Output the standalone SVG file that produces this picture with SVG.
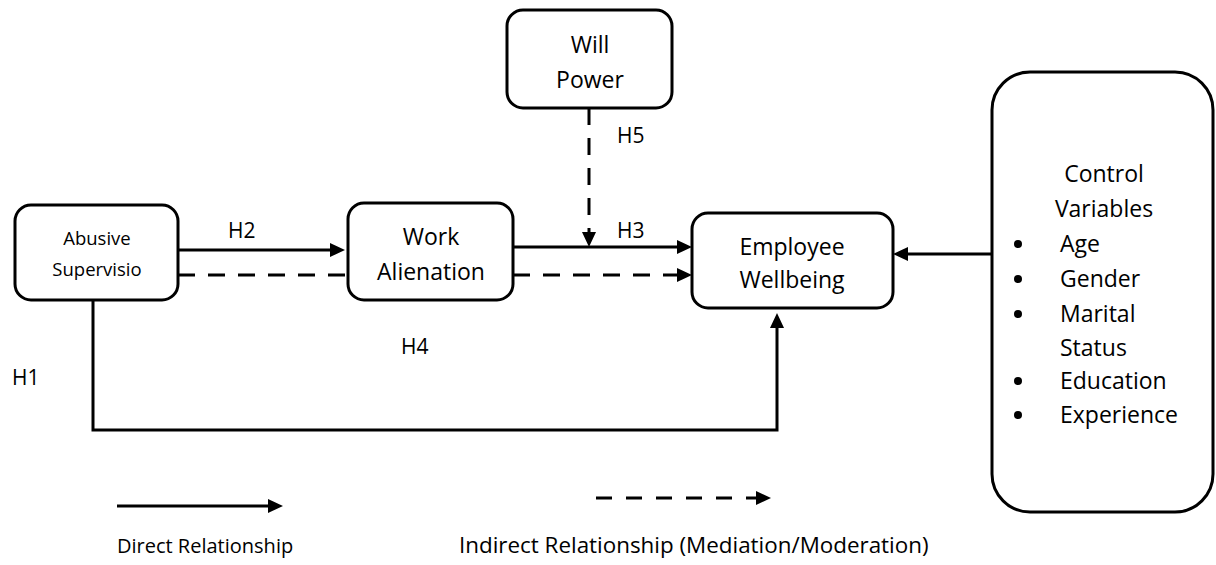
<svg xmlns="http://www.w3.org/2000/svg" width="1216" height="565" viewBox="0 0 1216 565">
<style>
.box{fill:#fff;stroke:#000;stroke-width:3}
.t{font-family:"Open Sans","Liberation Sans",sans-serif;fill:#000}
.c{text-anchor:middle}
.n{font-size:23px}
.h{font-size:21px}
.l{font-size:20px}
.ln{fill:none;stroke:#000;stroke-width:3}
.d{stroke-dasharray:17 13}
</style>
<defs>
<marker id="ah" markerUnits="userSpaceOnUse" markerWidth="16" markerHeight="15" refX="0" refY="7" orient="auto" viewBox="0 0 16 14">
<path d="M0,0 L15,7 L0,14 z" fill="#000"/>
</marker>
</defs>
<g id="connectors">
<path class="ln" d="M178,250 H330" marker-end="url(#ah)"/>
<path class="ln d" d="M178,275 H345"/>
<path class="ln" d="M513,247 H677" marker-end="url(#ah)"/>
<path class="ln d" d="M513,275 H677" marker-end="url(#ah)"/>
<path class="ln d" d="M589,108 V232" marker-end="url(#ah)"/>
<path class="ln" d="M992,254 H908" marker-end="url(#ah)"/>
<path class="ln" d="M93,300 V430 H777 V328" marker-end="url(#ah)"/>
<text class="t h" x="228" y="238">H2</text>
<text class="t h" x="617" y="238">H3</text>
<text class="t h" x="617" y="143">H5</text>
<text class="t h" x="401" y="354">H4</text>
<text class="t h" x="12" y="385">H1</text>
</g>
<g id="abusive">
<rect class="box" x="15" y="205" width="163" height="95" rx="16"/>
<text class="t c" style="font-size:18.5px" x="97" y="245">Abusive</text>
<text class="t c" style="font-size:18.5px" x="97" y="276">Supervisio</text>
</g>
<g id="work">
<rect class="box" x="348" y="203" width="165" height="97" rx="16"/>
<text class="t c n" x="431" y="245">Work</text>
<text class="t c n" x="431" y="280">Alienation</text>
</g>
<g id="will">
<rect class="box" x="507" y="10" width="165" height="98" rx="16"/>
<text class="t c n" x="590" y="53">Will</text>
<text class="t c n" x="590" y="88">Power</text>
</g>
<g id="employee">
<rect class="box" x="692" y="213" width="201" height="95" rx="16"/>
<text class="t c n" x="792" y="255">Employee</text>
<text class="t c n" x="792" y="288">Wellbeing</text>
</g>
<g id="control">
<rect class="box" x="992" y="72" width="221" height="440" rx="38"/>
<text class="t c n" x="1104" y="182">Control</text>
<text class="t c n" x="1104" y="217">Variables</text>
<g fill="#000">
<circle cx="1018" cy="244" r="4"/>
<circle cx="1018" cy="279" r="4"/>
<circle cx="1018" cy="314" r="4"/>
<circle cx="1018" cy="381" r="4"/>
<circle cx="1018" cy="415" r="4"/>
</g>
<text class="t n" x="1060" y="252">Age</text>
<text class="t n" x="1060" y="287">Gender</text>
<text class="t n" x="1060" y="322">Marital</text>
<text class="t n" x="1060" y="356">Status</text>
<text class="t n" x="1060" y="389">Education</text>
<text class="t n" x="1060" y="423">Experience</text>
</g>
<g id="legend">
<path class="ln" d="M117,506 H268" marker-end="url(#ah)"/>
<path class="ln" style="stroke-dasharray:16 14" d="M596,498 H756" marker-end="url(#ah)"/>
<text class="t l" x="117" y="553">Direct Relationship</text>
<text class="t" style="font-size:22.4px" x="459" y="553">Indirect Relationship (Mediation/Moderation)</text>
</g>
</svg>
